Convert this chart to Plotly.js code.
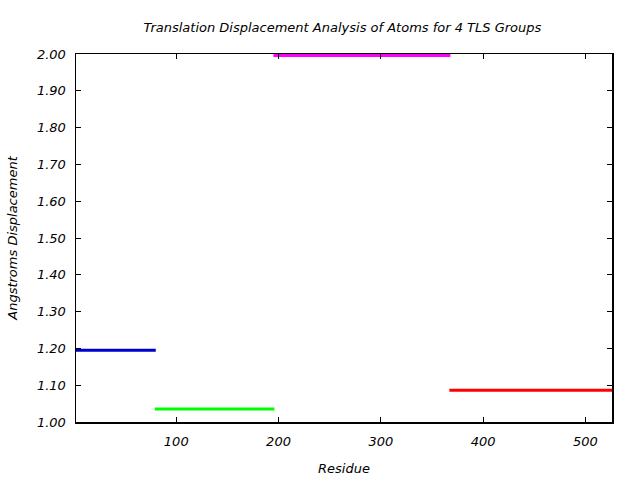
<!DOCTYPE html>
<html><head><meta charset="utf-8">
<script src="https://cdn.plot.ly/plotly-3.0.1.min.js"></script>
<style>html,body{margin:0;padding:0;background:#fff}#plot{width:640px;height:480px}</style>
</head><body><div id="plot"></div>
<script>
const groupNames = ["TLS Group 1", "TLS Group 2", "TLS Group 3", "TLS Group 4"];
const groupStart = [2, 79, 195, 367];
const groupEnd = [80, 196, 368, 526];
const displacement = [1.195, 1.035, 1.996, 1.086];
const groupColors = ["#0000cc", "#00ff00", "#ff00ff", "#ff0000"];
const xTicks = [100, 200, 300, 400, 500];

const traces = groupNames.map((n, i) => ({
  type: "scatter", mode: "lines", name: n,
  x: [groupStart[i], groupEnd[i]],
  y: [displacement[i], displacement[i]],
  line: {color: groupColors[i], width: 3},
  cliponaxis: false, hoverinfo: "skip"
}));

const fnt = {family: "DejaVu Sans", size: 13, color: "#000", style: "italic"};
const layout = {
  width: 640, height: 480,
  margin: {l: 76, r: 28, t: 54, b: 58},
  paper_bgcolor: "#fff", plot_bgcolor: "#fff",
  showlegend: false,
  font: fnt,
  title: {text: "Translation Displacement Analysis of Atoms for 4 TLS Groups", font: fnt, x: 0.535, xanchor: "center", y: 0.943, yanchor: "middle"},
  xaxis: {
    range: [2, 526], tickvals: xTicks, ticktext: xTicks.map(String),
    showgrid: false, zeroline: false, showline: true, linecolor: "#000", linewidth: 1.5,
    mirror: "allticks", ticks: "inside", ticklen: 5, tickcolor: "#000",
    ticklabelstandoff: 7,
    tickfont: fnt, title: {text: "Residue", font: fnt, standoff: 16}
  },
  yaxis: {
    range: [1.0, 2.0], dtick: 0.1, tick0: 1.0, tickformat: ".2f",
    showgrid: false, zeroline: false, showline: true, linecolor: "#000", linewidth: 1.5,
    mirror: "allticks", ticks: "inside", ticklen: 5, tickcolor: "#000",
    ticklabelstandoff: 6,
    tickfont: fnt, title: {text: "Angstroms Displacement", font: fnt, standoff: 16}
  }
};
Plotly.newPlot("plot", traces, layout, {staticPlot: true});
</script></body></html>
